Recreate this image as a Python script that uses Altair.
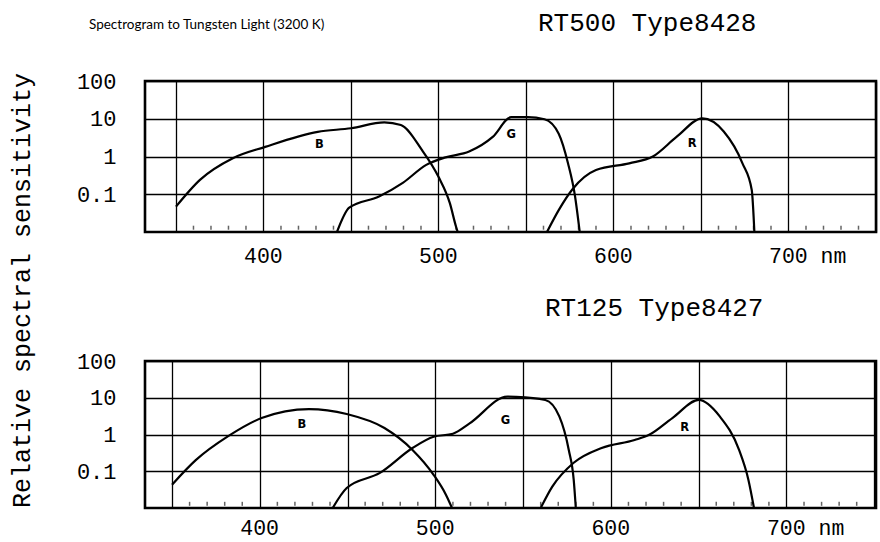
import altair as alt
import pandas as pd

# ---------------- data ----------------
bands = ["B", "G", "R"]

# RT500 Type8428 (top panel)
top_B_nm = [350, 363.7, 382.5, 401, 431, 450, 469, 478.5, 490.5, 500, 506.5, 510, 511]
top_B_val = [0.047, 0.24, 0.9, 1.8, 4.5, 5.6, 8.0, 6.8, 1.5, 0.29, 0.058, 0.014, 0.01]
top_G_nm = [442, 449, 466, 479.6, 493, 504, 517.5, 531, 541.6, 551, 560.6, 568.7, 574, 578, 580.7]
top_G_val = [0.01, 0.044, 0.087, 0.2, 0.6, 0.95, 1.35, 3.3, 11, 11, 9.7, 4.0, 0.66, 0.09, 0.01]
top_R_nm = [562, 568.7, 576.8, 590, 609, 622.5, 636, 650.8, 663, 673.7, 679, 680.5]
top_R_val = [0.01, 0.038, 0.14, 0.44, 0.66, 1.0, 3.3, 10.2, 4.6, 0.66, 0.13, 0.01]

# RT125 Type8427 (bottom panel)
bot_B_nm = [350, 363.5, 382, 401, 428, 449.5, 471, 487, 499, 506, 509.5]
bot_B_val = [0.043, 0.2, 0.9, 2.8, 4.9, 3.6, 1.5, 0.38, 0.08, 0.023, 0.01]
bot_G_nm = [441.5, 449.5, 468.4, 487, 499, 510, 519.5, 541, 546, 562.6, 570.6, 576, 578.8, 580]
bot_G_val = [0.01, 0.035, 0.09, 0.43, 0.87, 1.05, 2.0, 10.7, 10.5, 8.7, 3.1, 0.38, 0.059, 0.01]
bot_R_nm = [560, 566.6, 578.8, 594.7, 613.5, 621.8, 635, 650, 662, 673, 678.3, 681.5]
bot_R_val = [0.01, 0.038, 0.17, 0.43, 0.71, 0.98, 2.8, 8.7, 3.1, 0.38, 0.059, 0.01]

# curve letter labels (nm, value)
top_label_nm = [432, 541.6, 645]
top_label_val = [2.0, 3.7, 2.2]
bot_label_nm = [424, 540, 642]
bot_label_val = [1.8, 2.3, 1.5]

# axes
x_grid_nm = [350, 400, 450, 500, 550, 600, 650, 700, 750]
y_ticks = [0.1, 1, 10, 100]
minor_tick_nm = [n for n in range(360, 750, 10) if n % 50 != 0]
minor_tick_level = 0.013

MONO = "Liberation Mono"


def curves(spec):
    rows = []
    for band, (nms, vals) in zip(bands, spec):
        for n, v in zip(nms, vals):
            rows.append({"band": band, "nm": n, "val": v})
    return pd.DataFrame(rows)


def labels(nms, vals):
    return pd.DataFrame({"band": bands, "nm": nms, "val": vals})


def panel(curve_df, label_df, xdomain, height, title, title_dx, title_offset, label_pad, ytitle=None):
    xscale = alt.Scale(domain=xdomain, nice=False, zero=False)
    yscale = alt.Scale(type="log", domain=[0.01, 100], nice=False)
    xaxis = alt.Axis(
        values=x_grid_nm,
        labelExpr="datum.value == 700 ? '700 nm' : (datum.value % 100 == 0 ? datum.label : '')",
        grid=True, ticks=False, domain=False, title=None,
        labelFont=MONO, labelFontSize=21.5, labelColor="black",
        labelAlign="left", labelOffset=-20, labelPadding=label_pad,
        labelOverlap=False, labelFlush=False,
        gridColor="black", gridWidth=1.3, gridOpacity=1,
    )
    yaxis_kw = dict(
        values=y_ticks, format="~g",
        grid=True, ticks=False, domain=False,
        labelFont=MONO, labelFontSize=22, labelColor="black", labelPadding=29,
        gridColor="black", gridWidth=1.3, gridOpacity=1,
    )
    if ytitle:
        yaxis = alt.Axis(
            title=ytitle, titleFont=MONO, titleFontSize=25, titleFontWeight="normal",
            titleColor="black", titleAngle=270, titleAlign="center", titleBaseline="middle",
            titleX=-124, titleY=209, **yaxis_kw)
    else:
        yaxis = alt.Axis(title=None, **yaxis_kw)

    x = alt.X("nm:Q", scale=xscale, axis=xaxis)
    y = alt.Y("val:Q", scale=yscale, axis=yaxis)

    lines = alt.Chart(curve_df).mark_line(
        color="black", strokeWidth=2.2, interpolate="monotone", clip=True
    ).encode(x=x, y=y, detail="band:N")

    text = alt.Chart(label_df).mark_text(
        font="DejaVu Sans", fontWeight="bold", fontSize=11.5, color="black"
    ).encode(x=alt.X("nm:Q", scale=xscale), y=alt.Y("val:Q", scale=yscale), text="band:N")

    ticks = alt.Chart(pd.DataFrame({"nm": minor_tick_nm})).mark_tick(
        orient="vertical", size=4, thickness=1.5, color="#222"
    ).encode(x=alt.X("nm:Q", scale=xscale), y=alt.Y(datum=minor_tick_level, scale=yscale))

    return alt.layer(ticks, lines, text).properties(
        width=731, height=height,
        title=alt.TitleParams(
            text=title, anchor="start", frame="group", dx=title_dx,
            font=MONO, fontSize=26, fontWeight="normal", color="black", offset=title_offset,
        ),
    )


top = panel(
    curves([(top_B_nm, top_B_val), (top_G_nm, top_G_val), (top_R_nm, top_R_val)]),
    labels(top_label_nm, top_label_val),
    [332.3, 750], 151, "RT500 Type8428", 393, 34, 13,
    ytitle="Relative spectral sensitivity",
)
bottom = panel(
    curves([(bot_B_nm, bot_B_val), (bot_G_nm, bot_G_val), (bot_R_nm, bot_R_val)]),
    labels(bot_label_nm, bot_label_val),
    [334.6, 751], 147, "RT125 Type8427", 400, 29, 9,
)

chart = alt.vconcat(top, bottom, spacing=129, bounds="flush").properties(
    title=alt.TitleParams(
        text="Spectrogram to Tungsten Light (3200 K)", anchor="start", frame="group",
        dx=-56, dy=27, font="Lato", fontSize=13.5, fontWeight="normal", color="black",
    ),
    padding={"left": 7, "top": 8, "right": 0, "bottom": 0},
    background="white",
).configure_view(
    stroke="black", strokeWidth=2.6
)

chart.save("out.html", embed_options={"renderer": "svg", "actions": False})
